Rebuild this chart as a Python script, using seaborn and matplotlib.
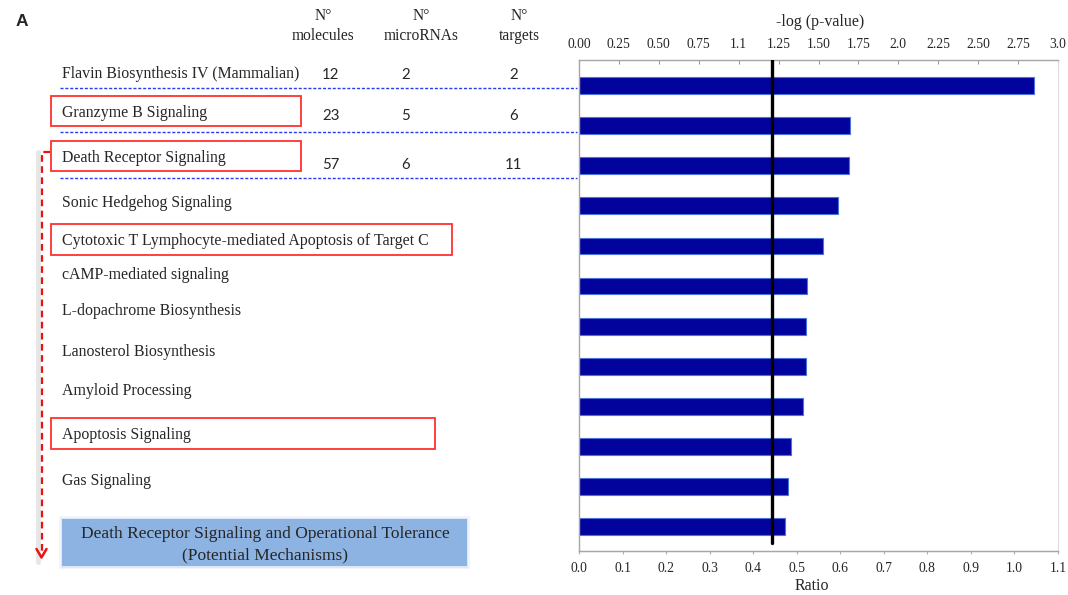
import matplotlib
matplotlib.use("Agg")
import matplotlib.pyplot as plt
from matplotlib.patches import Rectangle
from matplotlib.lines import Line2D
import seaborn as sns
import pandas as pd

# ---- data -------------------------------------------------------------
pathways = [
    "Flavin Biosynthesis IV (Mammalian)",
    "Granzyme B Signaling",
    "Death Receptor Signaling",
    "Sonic Hedgehog Signaling",
    "Cytotoxic T Lymphocyte-mediated Apoptosis of Target C",
    "cAMP-mediated signaling",
    "L-dopachrome Biosynthesis",
    "Lanosterol Biosynthesis",
    "Amyloid Processing",
    "Apoptosis Signaling",
    "Gas Signaling",
]
highlighted = [
    "Granzyme B Signaling",
    "Death Receptor Signaling",
    "Cytotoxic T Lymphocyte-mediated Apoptosis of Target C",
    "Apoptosis Signaling",
]
bar_rank = ["1", "2", "3", "4", "5", "6", "7", "8", "9", "10", "11", "12"]
neg_log_p = [2.85, 1.70, 1.69, 1.62, 1.53, 1.43, 1.42, 1.42, 1.40, 1.33, 1.31, 1.29]
threshold = 1.21

n_molecules = [12, 23, 57]
n_micrornas = [2, 5, 6]
n_targets = [2, 6, 11]

top_ticks = [0.0, 0.25, 0.5, 0.75, 1.0, 1.25, 1.5, 1.75, 2.0, 2.25, 2.5, 2.75, 3.0]
top_tick_labels = ["0.00", "0.25", "0.50", "0.75", "1.1", "1.25", "1.50",
                   "1.75", "2.0", "2.25", "2.50", "2.75", "3.0"]
ratio_ticks = [0.0, 0.1, 0.2, 0.3, 0.4, 0.5, 0.6, 0.7, 0.8, 0.9, 1.0, 1.1]
ratio_max = 1.1
logp_max = 3.0

conclusion = ["Death Receptor Signaling and Operational Tolerance",
              "(Potential Mechanisms)"]

# ---- figure -----------------------------------------------------------
W, H = 1068, 595
sns.set_style("white")
SERIF = ["Liberation Serif", "DejaVu Serif"]
plt.rcParams["font.family"] = SERIF

fig = plt.figure(figsize=(W / 100, H / 100), dpi=100)


def fx(x):
    return x / W


def fy(y):
    return 1 - y / H


ax = fig.add_axes([fx(579), fy(551), (1058 - 579) / W, (551 - 60) / H])

df = pd.DataFrame({"rank": bar_rank, "neg_log_p": neg_log_p})
sns.barplot(data=df, x="neg_log_p", y="rank", orient="h", ax=ax,
            color="#02029c", saturation=1, width=0.42,
            edgecolor="#4f72d8", linewidth=0.8)

ax.set_xlim(0, logp_max)
ax.set_ylim(11.61, -0.64)
ax.set_ylabel("")
ax.set_xlabel("")
ax.set_yticks([])

ax.xaxis.tick_top()
ax.set_xticks(top_ticks)
ax.set_xticklabels(top_tick_labels)
ax.tick_params(axis="x", direction="in", length=3, color="#9a9a9a",
               labelsize=9.8, pad=6.5)

for side in ["left", "top", "bottom"]:
    ax.spines[side].set_color("#a6a6a6")
    ax.spines[side].set_linewidth(1.0)
ax.spines["right"].set_color("#dcdcdc")

# ratio scale shares the same bar length
sec = ax.secondary_xaxis(
    "bottom",
    functions=(lambda v: v * ratio_max / logp_max,
               lambda r: r * logp_max / ratio_max))
sec.set_xticks(ratio_ticks)
sec.set_xticklabels([f"{t:.1f}" for t in ratio_ticks])
sec.tick_params(axis="x", length=2, color="#b0b0b0", labelsize=9.8, pad=6)
sec.spines["bottom"].set_color("#a6a6a6")

# significance threshold
ax.axvline(threshold, ymin=0.016, ymax=1.0, color="black", lw=2.4, zorder=5)

# axis titles
fig.text(fx(820), fy(22), "-log (p-value)", ha="center", va="center",
         fontsize=11.5)
fig.text(fx(812), fy(586), "Ratio", ha="center", va="center", fontsize=11.5)

# panel letter
fig.text(fx(21.7), fy(21), "A", ha="center", va="center", fontsize=12.5,
         fontweight="bold", family=["Liberation Sans", "DejaVu Sans"])

# column headers
for xc, word in [(323, "molecules"), (421, "microRNAs"), (519, "targets")]:
    fig.text(fx(xc), fy(16), "N°", ha="center", va="center", fontsize=11.2)
    fig.text(fx(xc), fy(35.5), word, ha="center", va="center", fontsize=11.2)

# counts for the top three pathways
count_rows_y = [75, 116, 165]
SANS = ["Lato", "DejaVu Sans"]
for i, yy in enumerate(count_rows_y):
    for xc, vals in [(330.7, n_molecules), (406, n_micrornas), (514, n_targets)]:
        fig.text(fx(xc), fy(yy), str(vals[i]), ha="center", va="center",
                 fontsize=10.8, family=SANS)

# pathway names
label_y = [72.7, 111, 156, 201, 239.3, 273.3, 309, 350, 389.3, 433.3, 479]
for name, yy in zip(pathways, label_y):
    fig.text(fx(62.3), fy(yy + 1.8), name, ha="left", va="center",
             fontsize=11.4)

# red frames around the highlighted pathways
frame_right = {
    "Granzyme B Signaling": 300.7,
    "Death Receptor Signaling": 300.7,
    "Cytotoxic T Lymphocyte-mediated Apoptosis of Target C": 452.3,
    "Apoptosis Signaling": 435,
}
for name in highlighted:
    yy = label_y[pathways.index(name)]
    x0, x1 = 50.7, frame_right[name]
    y0, y1 = yy - 15.3, yy + 15.3
    fig.add_artist(Rectangle((fx(x0), fy(y1)), (x1 - x0) / W, (y1 - y0) / H,
                             transform=fig.transFigure, fill=False,
                             ec="#ff3030", lw=1.3))

# blue dotted separators under the first three rows
for yy in [88.3, 131.7, 177.7]:
    fig.add_artist(Line2D([fx(60), fx(577)], [fy(yy), fy(yy)],
                          transform=fig.transFigure, color="#2a3cf0", lw=1.0,
                          linestyle=(0, (2.2, 1.3))))

# red dashed arrow with a soft shadow
fig.add_artist(Line2D([fx(37.5), fx(37.5)], [fy(152), fy(562)],
                      transform=fig.transFigure, color="#d6d6d6", lw=3.5,
                      alpha=0.6, solid_capstyle="round"))
fig.add_artist(Line2D([fx(50), fx(41.5), fx(41.5)], [fy(152), fy(152), fy(556)],
                      transform=fig.transFigure, color="#ee1111", lw=1.6,
                      linestyle=(0, (3, 2))))
fig.add_artist(Line2D([fx(36.5), fx(41.5), fx(46.5)], [fy(549), fy(557.5), fy(549)],
                      transform=fig.transFigure, color="#ee1111", lw=1.8))

# conclusion box
bx0, by0, bx1, by1 = 62.3, 519.3, 466.7, 566
for grow, alpha in [(3, 0.12), (1.5, 0.2)]:
    fig.add_artist(Rectangle((fx(bx0 - grow), fy(by1 + grow)),
                             (bx1 - bx0 + 2 * grow) / W,
                             (by1 - by0 + 2 * grow) / H,
                             transform=fig.transFigure, fc="#8db3e2",
                             ec="none", alpha=alpha))
fig.add_artist(Rectangle((fx(bx0), fy(by1)), (bx1 - bx0) / W, (by1 - by0) / H,
                         transform=fig.transFigure, fc="#8db3e2", ec="none"))
fig.text(fx(265), fy(534.5), conclusion[0], ha="center", va="center",
         fontsize=12.5)
fig.text(fx(265), fy(555), conclusion[1], ha="center", va="center",
         fontsize=12.5)

fig.savefig("out.png", dpi=100)
